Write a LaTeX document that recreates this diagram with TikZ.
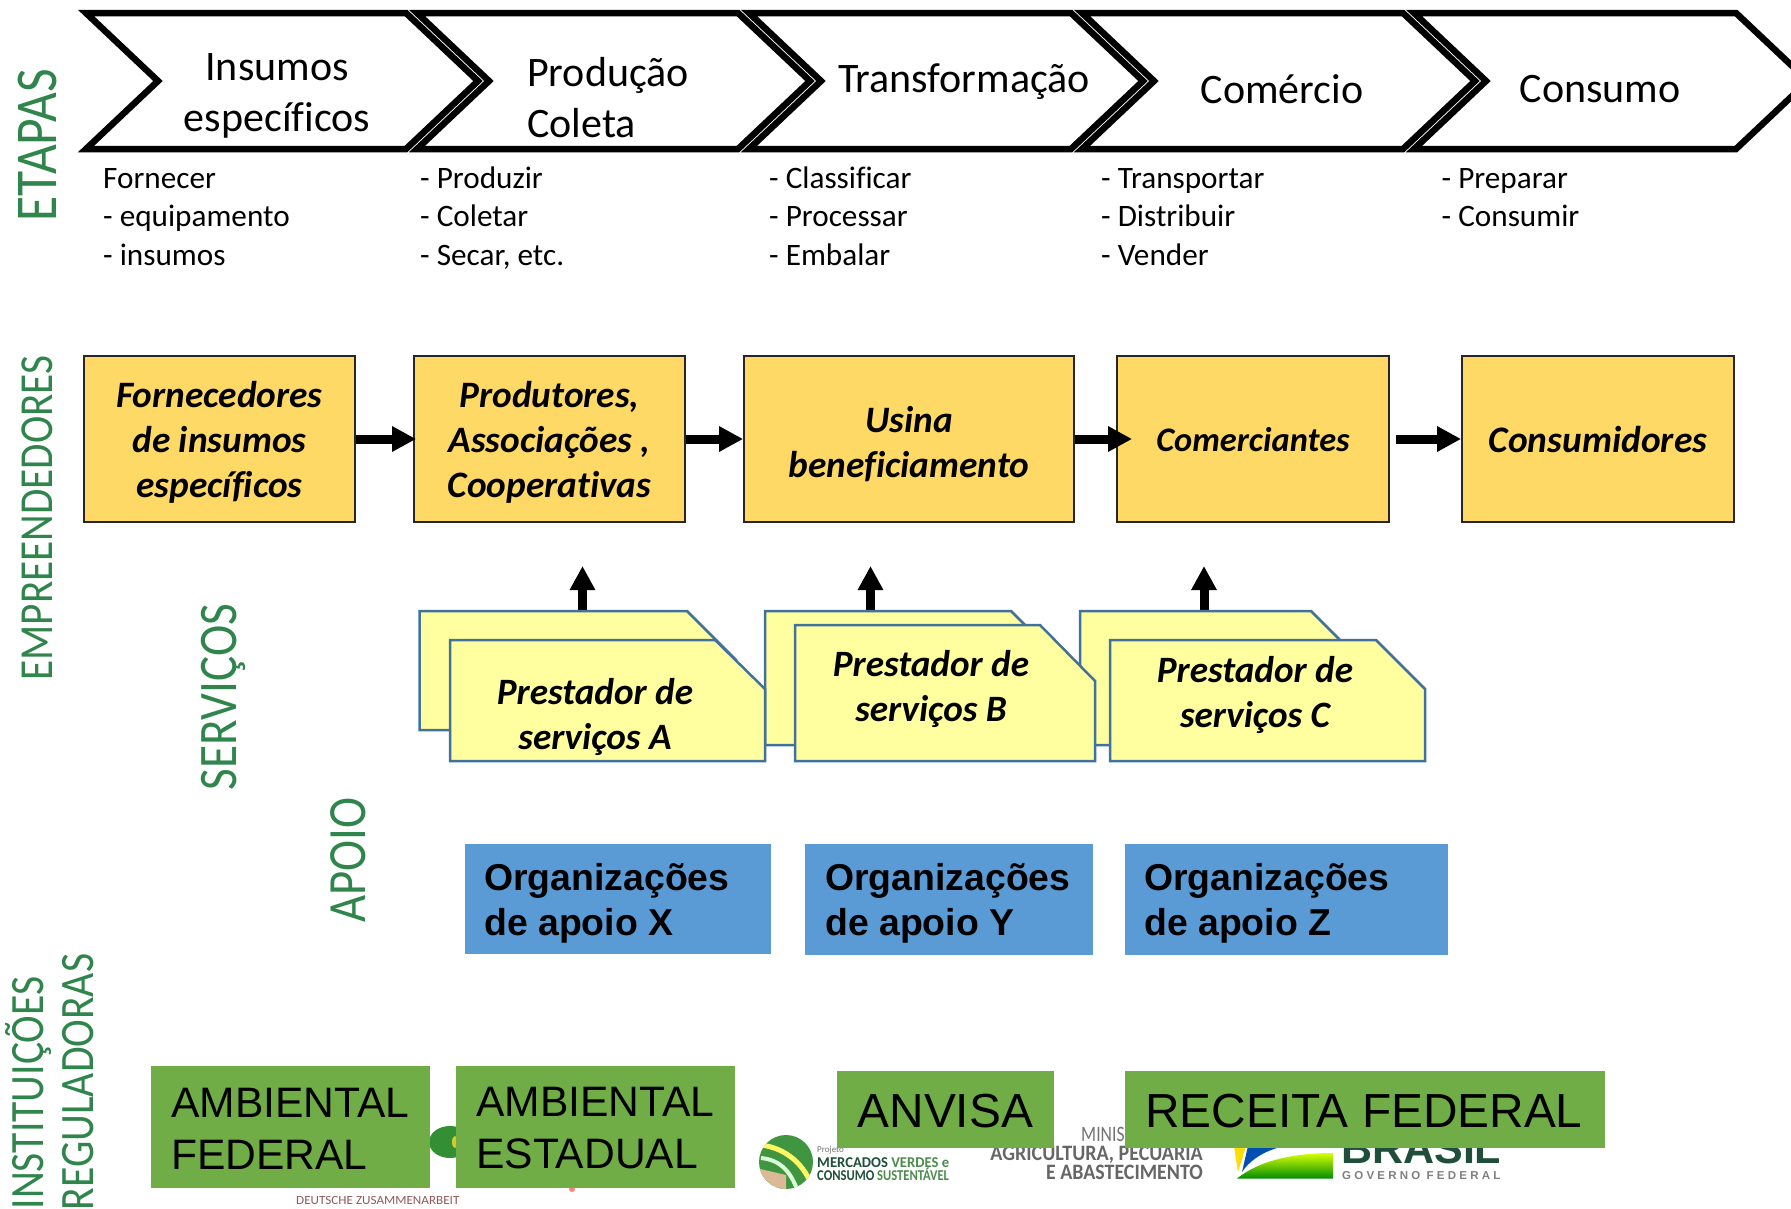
\documentclass[tikz,border=0pt]{standalone}
\usepackage{fontspec}
\setmainfont[Ligatures=NoCommon]{Carlito}
\newfontfamily\arialf{Liberation Sans}
\newfontfamily\govf[LetterSpace=28]{Liberation Sans}
\usetikzlibrary{arrows.meta}
\newcommand{\fsz}[2]{\fontsize{#1}{#2}\selectfont}
\definecolor{chain}{HTML}{FFD966}
\definecolor{svc}{HTML}{FFFF9F}
\definecolor{svcline}{HTML}{41719C}
\definecolor{org}{HTML}{5B9BD5}
\definecolor{reg}{HTML}{70AD47}
\definecolor{lab}{HTML}{2F854B}
\definecolor{logodark}{HTML}{1F4E3A}
\tikzset{
  chevron/.style={draw=black,fill=white,line width=6.5pt,miter limit=20},
  stagelabel/.style={font=\fsz{42}{51},align=center,inner sep=0pt},
  tasklist/.style={font=\fsz{31.2}{38.5},align=left,anchor=west,inner sep=0pt},
  actor/.style={draw=black!85,line width=1.8pt,fill=chain,minimum height=166pt,inner sep=0pt},
  actortext/.style={inner sep=0pt,align=center,font=\fsz{37.3}{45}\bfseries\itshape},
  flow/.style={-{Triangle[width=24pt,length=24pt]},line width=9pt,black},
  folder/.style={draw=svcline,line width=2.5pt,fill=svc,line join=miter},
  svctext/.style={font=\fsz{37.2}{45.5}\bfseries\itshape,align=center,inner sep=0pt},
  orgbox/.style={fill=org,inner sep=0pt,anchor=north west},
  orgtext/.style={font=\arialf\bfseries\fsz{37.4}{45},align=left,anchor=west,inner sep=0pt},
  regbox/.style={fill=reg,inner sep=0pt,anchor=north west},
  regtext/.style={font=\arialf\fsz{42.6}{52},align=left,anchor=west,inner sep=0pt},
  regtextb/.style={font=\arialf\fsz{47.8}{52},align=left,anchor=west,inner sep=0pt},
  sidelabel/.style={rotate=90,text=lab,inner sep=0pt},
  logotext/.style={inner sep=0pt,anchor=base west}
}
\newcommand{\chev}[2]{\draw[chevron] (#1,13) -- (#2,13) -- ++(72,68) -- ++(-72,68) -- (#1,149) -- ++(72,-68) -- cycle;}
\newcommand{\side}[2]{\scalebox{1}[1.15]{\fsz{#1}{#1}#2}}
\begin{document}
\begin{tikzpicture}[x=1pt,y=-1pt]
\useasboundingbox (0,0) rectangle (1791,1208);
\clip (0,0) rectangle (1791,1208);
\fill[white] (0,0) rectangle (1791,1208);
% value chain stages
\chev{86}{406}
\chev{417}{738}
\chev{749}{1071}
\chev{1082}{1403}
\chev{1414}{1736}
\node[stagelabel] (s1) at (277,96) {Insumos\\específicos};
\node[stagelabel,align=left,anchor=west] (s2) at (527,98) {Produção\\Coleta};
\node[stagelabel] (s3) at (964,82) {Transformação};
\node[stagelabel] (s4) at (1282,89) {Comércio};
\node[stagelabel] (s5) at (1600,89) {Consumo};
\node[tasklist] (t1) at (103,217) {Fornecer\\- equipamento\\- insumos};
\node[tasklist] (t2) at (420,218) {- Produzir\\- Coletar\\- Secar, etc.};
\node[tasklist] (t3) at (769,216) {- Classificar\\- Processar\\- Embalar};
\node[tasklist] (t4) at (1101,217) {- Transportar\\- Distribuir\\- Vender};
\node[tasklist] (t5) at (1441.5,197.5) {- Preparar\\- Consumir};
% entrepreneurs
\node[actor,minimum width=271pt] (b1) at (219.5,439) {};
\node[actor,minimum width=271pt] (b2) at (549.5,439) {};
\node[actor,minimum width=330pt] (b3) at (909,439) {};
\node[actor,minimum width=272pt] (b4) at (1253,439) {};
\node[actor,minimum width=272pt] (b5) at (1598,439) {};
\node[actortext] (b1t) at ([yshift=-3.5pt]b1.center) {Fornecedores\\de insumos\\específicos};
\node[actortext] (b2t) at ([yshift=-3.5pt]b2.center) {Produtores,\\Associações ,\\Cooperativas};
\node[actortext] (b3t) at ([yshift=-5.5pt]b3.center) {Usina\\beneficiamento};
\node[actortext,font=\fsz{34.4}{45}\bfseries\itshape] (b4t) at ([yshift=-1pt]b4.center) {Comerciantes};
\node[actortext,font=\fsz{37.4}{45}\bfseries\itshape] (b5t) at ([yshift=-1pt]b5.center) {Consumidores};
\draw[flow] (b1.east) -- ([xshift=3pt]b2.west);
\draw[flow] (b2.east) -- ([xshift=0pt]b3.west);
\draw[flow] (b3.east) -- ([xshift=16pt]b4.west);
\draw[flow] ([xshift=6pt]b4.east) -- (b5.west);
% service providers
\coordinate (ua) at (582.5,566); \coordinate (ub) at (870.5,566); \coordinate (uc) at (1204,566);
\coordinate (fa) at (582.5,612); \coordinate (fb) at (870.5,612); \coordinate (fc) at (1204,612);
\draw[flow] (fa) -- (ua);
\draw[flow] (fb) -- (ub);
\draw[flow] (fc) -- (uc);
\draw[folder] (419.5,611) -- (687,611) -- (736,660) -- (736,730) -- (419.5,730) -- cycle;
\draw[folder] (765,611) -- (1011,611) -- (1060,660) -- (1060,745) -- (765,745) -- cycle;
\draw[folder] (1080,611) -- (1311,611) -- (1360,660) -- (1360,745) -- (1080,745) -- cycle;
\draw[folder] (450,640) -- (715,640) -- (765,689) -- (765,761) -- (450,761) -- cycle;
\draw[folder] (795,625) -- (1040,625) -- (1095,681) -- (1095,761) -- (795,761) -- cycle;
\draw[folder] (1110,640) -- (1376,640) -- (1425,689) -- (1425,761) -- (1110,761) -- cycle;
\node[svctext] (pa) at (595,717) {Prestador de\\serviços A};
\node[svctext] (pb) at (931,689) {Prestador de\\serviços B};
\node[svctext] (pc) at (1255,695) {Prestador de\\serviços C};
% support
\node[orgbox,minimum width=306pt,minimum height=110pt] (ox) at (465,844) {};
\node[orgbox,minimum width=288pt,minimum height=111pt] (oy) at (805,844) {};
\node[orgbox,minimum width=323pt,minimum height=111pt] (oz) at (1125,844) {};
\node[orgtext] (oxt) at (484,903.5) {Organizações\\de apoio X};
\node[orgtext] (oyt) at (825,903.5) {Organizações\\de apoio Y};
\node[orgtext] (ozt) at (1144,903.5) {Organizações\\de apoio Z};
% logos behind the regulators
\fill[green!45!black!80] (450,1142) ellipse (21 and 16);
\fill[yellow!80!black] (455,1142) ellipse (3 and 6);
\fill[red!50!white] (572,1189) circle (3);
\node[logotext,text=red!35!black!65,font=\fsz{12.5}{13}] (l1) at (296,1204) {\scalebox{1.05}[1]{DEUTSCHE ZUSAMMENARBEIT}};
\fill[green!45!black!75] (786,1162) circle (27);
\begin{scope}
\clip (786,1162) circle (27);
\draw[yellow!60!white,line width=5pt] (761,1145) .. controls (786,1148) and (806,1165) .. (813,1190);
\draw[white!85!green,line width=4pt] (761,1158) .. controls (781,1160) and (791,1172) .. (798,1192);
\fill[brown!55!white] (756,1168) -- (786,1175) -- (786,1190) -- (756,1190) -- cycle;
\end{scope}
\node[logotext,text=black!55,font=\fsz{9}{9}] (l2) at (817,1152) {Projeto};
\node[logotext,font=\bfseries\fsz{15}{15}] (l3) at (817,1167) {\scalebox{.976}[1]{\textcolor{logodark}{MERCADOS} \textcolor{green!35!black!70}{VERDES e}}};
\node[logotext,font=\bfseries\fsz{15}{15}] (l4) at (817,1180) {\scalebox{.84}[1]{\textcolor{logodark}{CONSUMO} \textcolor{green!35!black!70}{SUSTENTÁVEL}}};
\node[logotext,text=black!55,font=\fsz{22}{22}] (l5) at (1081,1141) {\scalebox{.8}[1]{MINIS}};
\node[text=black!60,font=\bfseries\fsz{22}{22},inner sep=0pt,anchor=base east] (l6) at (1203,1160) {\scalebox{.91}[1]{AGRICULTURA, PECUÁRIA}};
\node[text=black!60,font=\bfseries\fsz{22}{22},inner sep=0pt,anchor=base east] (l7) at (1203,1179) {\scalebox{.905}[1]{E ABASTECIMENTO}};
\fill[yellow!80!orange] (1234,1146) -- (1246,1146) -- (1238,1172) -- cycle;
\fill[blue!55!cyan!70!black] (1248,1146) -- (1285,1146) .. controls (1265,1150) and (1250,1160) .. (1242,1172) -- cycle;
\shade[top color=yellow!85!green,bottom color=green!55!black] (1237,1178.5) .. controls (1260,1160) and (1295,1153) .. (1333,1153) -- (1333,1178.5) -- cycle;
\node[logotext,text=logodark,font=\arialf\bfseries\fsz{43}{43}] (l8) at (1341,1163) {BRASIL};
\node[logotext,text=black!50,font=\govf\bfseries\fsz{11.5}{12}] (l9) at (1342,1179) {GOVERNO FEDERAL};
% regulators
\node[regbox,minimum width=279pt,minimum height=122.5pt] (r1) at (151,1065.5) {};
\node[regbox,minimum width=279pt,minimum height=122.5pt] (r2) at (456,1065.5) {};
\node[regbox,minimum width=217pt,minimum height=77.5pt] (r3) at (837,1070.5) {};
\node[regbox,minimum width=480pt,minimum height=77.5pt] (r4) at (1125,1070.5) {};
\node[regtext] (r1t) at (171,1128.5) {AMBIENTAL\\FEDERAL};
\node[regtext] (r2t) at (476,1128.5) {AMBIENTAL\\ESTADUAL};
\node[regtextb] (r3t) at (857.5,1111.5) {ANVISA};
\node[regtextb] (r4t) at (1145,1111.5) {RECEITA FEDERAL};
% side labels
\node[sidelabel] (e1) at (37,145) {\side{51.5}{ETAPAS}};
\node[sidelabel] (e2) at (37.5,518) {\side{41.2}{EMPREENDEDORES}};
\node[sidelabel] (e3) at (223,697) {\side{47.2}{SERVIÇOS}};
\node[sidelabel] (e4) at (348.5,860) {\side{46.8}{APOIO}};
\node[sidelabel] (e5) at (28.5,1093) {\side{41.6}{INSTITUIÇÕES}};
\node[sidelabel] (e6) at (78.5,1082) {\side{41.7}{REGULADORAS}};
\end{tikzpicture}
\end{document}
